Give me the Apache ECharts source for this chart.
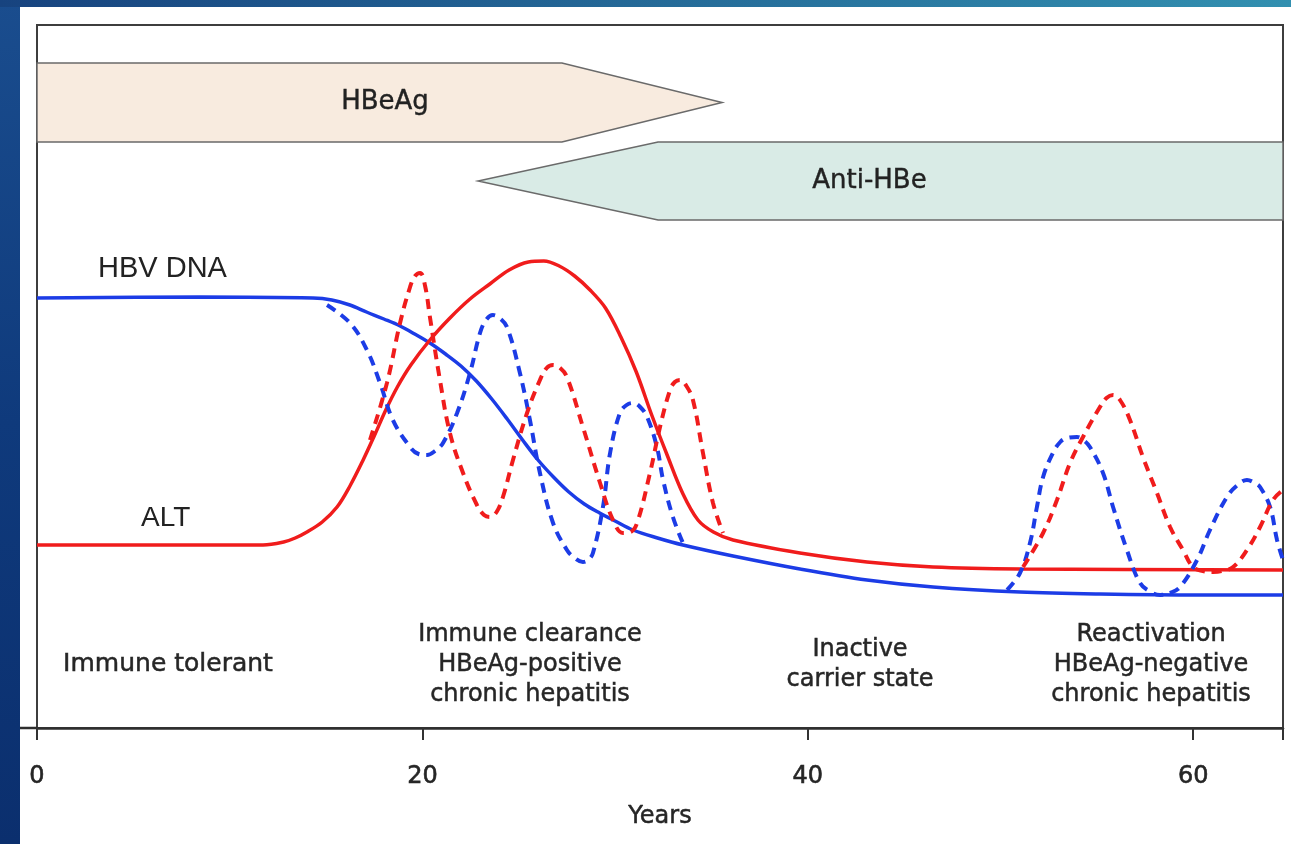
<!DOCTYPE html>
<html>
<head>
<meta charset="utf-8">
<script src="https://cdn.jsdelivr.net/npm/echarts@6/dist/echarts.min.js"></script>
<style>
html,body{margin:0;padding:0;background:#fff;}
#chart{width:1291px;height:844px;}
</style>
</head>
<body>
<div id="chart"></div>
<script>
// ---------- data (years on x; relative level on y, arbitrary units) ----------
const xTicks = [0, 20, 40, 60];
const xMax = 64.66;

// Serology bands (HBeAg arrow pointing right, Anti-HBe arrow pointing left)
const bandNames   = ['HBeAg', 'Anti-HBe'];
const bandFrom    = [0, 64.66];
const bandBodyEnd = [27.24, 32.23];
const bandTip     = [35.55, 22.89];
const bandLow     = [586, 508];
const bandHigh    = [665, 586];
const bandLabelAt = [18.06, 43.2];

// HBV DNA (solid blue)
const dnaYears = [0, 8.46, 14.32, 15.3, 16.24, 17.1, 18.0, 18.84, 19.6, 20.39, 21.2, 22.0, 22.8, 23.6, 24.4, 25.2, 26.0, 26.8, 27.6, 28.4, 29.2, 30.0, 30.93, 32.2, 33.52, 36.12, 39.59, 43.07, 46.50, 51.01, 55.16, 60.35, 64.66];
const dnaLevel = [430, 431, 430, 428, 423, 416, 409, 402, 394, 385, 374, 362, 347, 329, 309, 288, 268, 251, 236, 224, 215, 207, 198, 190, 183, 172, 159, 148, 141, 136, 134, 133, 133];

// ALT (solid red)
const altYears = [0, 11.73, 12.8, 13.4, 14.01, 14.8, 15.57, 16.24, 16.9, 17.5, 18.1, 18.7, 19.4, 20.39, 21.43, 22.47, 23.5, 24.5, 25.5, 26.3, 27.1, 27.9, 28.7, 29.5, 30.3, 31.1, 31.9, 32.7, 33.5, 34.3, 35.1, 36.12, 39.59, 43.07, 46.50, 51.01, 64.66];
const altLevel = [183, 183, 186, 190, 196, 206, 221, 242, 267, 292, 318, 341, 363, 388, 410, 429, 444, 458, 466, 467, 462, 452, 438, 420, 391, 356, 313, 273, 235, 208, 196, 188, 175, 166, 161, 159, 158];

// ALT flares (dashed red) - immune clearance
const altFlare1Years = [17.28, 18.16, 18.84, 19.36, 19.62, 19.88, 20.14, 20.39, 20.91, 21.43, 22.11, 22.83, 23.2, 23.51, 23.85, 24.18, 24.70, 25.43, 26.10, 26.45, 26.78, 27.15, 27.50, 28.33, 29.22, 29.89, 30.41, 30.8, 31.14, 31.81, 32.33, 32.85, 33.1, 33.37, 33.7, 34.04, 34.56, 35.08, 35.60];
const altFlare1Level = [288, 345, 405, 441, 452, 455, 442, 411, 348, 295, 255, 223, 213, 211, 216, 231, 268, 315, 348, 360, 363, 360, 351, 301, 245, 208, 195, 196, 205, 255, 301, 338, 346, 348, 342, 328, 275, 225, 195];

// HBV DNA fluctuations (dashed blue) - immune clearance
const dnaFlare1Years = [15.05, 16.24, 17.12, 17.80, 18.47, 19.36, 19.8, 20.24, 20.65, 21.07, 21.80, 22.47, 22.99, 23.3, 23.66, 24.0, 24.39, 25.06, 25.58, 26.10, 26.78, 27.50, 27.9, 28.33, 28.6, 28.85, 29.37, 29.74, 30.25, 30.6, 30.93, 31.3, 31.66, 32.17, 32.49, 33.00, 33.52];
const dnaFlare1Level = [423, 405, 378, 345, 308, 281, 274, 273, 277, 285, 315, 355, 395, 408, 413, 410, 401, 355, 308, 255, 205, 178, 170, 166, 168, 175, 221, 275, 315, 323, 325, 321, 311, 281, 248, 211, 185];

// ALT flares (dashed red) - reactivation
const altFlare2Years = [51.17, 52.21, 52.93, 53.61, 54.28, 55.16, 55.5, 55.84, 56.2, 56.72, 57.39, 58.12, 58.80, 59.47, 59.99, 60.5, 61.03, 61.5, 62.07, 62.79, 63.47, 64.14, 64.66];
const altFlare2Level = [161, 195, 228, 265, 291, 321, 330, 333, 328, 308, 271, 235, 201, 178, 161, 157, 156, 157, 161, 178, 201, 228, 238];

// HBV DNA fluctuations (dashed blue) - reactivation
const dnaFlare2Years = [50.34, 51.01, 51.53, 51.89, 52.21, 52.72, 53.1, 53.45, 53.97, 54.3, 54.64, 55.32, 55.84, 56.56, 57.24, 57.8, 58.28, 58.8, 59.32, 60.20, 60.87, 61.75, 62.3, 62.79, 63.2, 63.47, 63.99, 64.35, 64.66];
const dnaFlare2Level = [138, 155, 185, 221, 251, 275, 286, 290, 291, 288, 281, 255, 221, 178, 145, 136, 133, 135, 141, 168, 198, 231, 243, 248, 245, 241, 221, 188, 168];

// ---------- build ----------
const zip = (xs, ys) => xs.map((x, i) => [x, ys[i]]);
const RED = '#f01c1c', BLUE = '#1c3ce6';
const TXT = '#262626';
const bandFill = ['#f8ebdf', '#d9ebe6'];

const chart = echarts.init(document.getElementById('chart'), null, {renderer: 'canvas'});

function lineSeries(name, xs, ys, color, dashed, z) {
  return {
    name, type: 'line', data: zip(xs, ys), showSymbol: false, smooth: dashed ? 0.4 : 0.35,
    lineStyle: {color, width: dashed ? 4 : 3.5, type: dashed ? [10, 7] : 'solid', cap: 'butt'},
    z, silent: true, animation: false
  };
}

function phaseText(x, y, text, size) {
  return {type: 'text', x, y, style: {text, fontSize: size || 24, lineHeight: 30, fontFamily: 'DejaVu Sans', fill: TXT,
    stroke: TXT, lineWidth: 0.5, align: 'center', verticalAlign: 'middle'}};
}

const option = {
  animation: false,
  backgroundColor: '#fff',
  grid: {left: 37, right: 8, top: 25, bottom: 116, show: true, borderColor: '#3d3d3d', borderWidth: 2, backgroundColor: '#fff', containLabel: false},
  xAxis: {
    type: 'value', min: 0, max: xMax, interval: 20,
    axisLine: {show: true, lineStyle: {color: '#2e2e2e', width: 2.5}},
    axisTick: {show: true, length: 12, lineStyle: {color: '#333', width: 2}, customValues: [0, 20, 40, 60, xMax]},
    axisLabel: {color: TXT, fontSize: 24, fontFamily: 'DejaVu Sans', margin: 37, customValues: xTicks,
      textBorderColor: TXT, textBorderWidth: 0.6},
    splitLine: {show: false},
    name: 'Years', nameLocation: 'middle', nameGap: 77,
    nameTextStyle: {color: TXT, fontSize: 24, fontFamily: 'DejaVu Sans', textBorderColor: TXT, textBorderWidth: 0.5}
  },
  yAxis: {type: 'value', min: 0, max: 703, show: false, splitLine: {show: false}},
  graphic: [
    {type: 'rect', shape: {x: 0, y: 0, width: 20, height: 844}, z: 100,
      style: {fill: new echarts.graphic.LinearGradient(0, 0, 0, 1, [{offset: 0, color: '#1a4d8e'}, {offset: 0.5, color: '#0f3a7c'}, {offset: 1, color: '#0b2f6e'}])}},
    {type: 'rect', shape: {x: 0, y: 0, width: 1291, height: 7}, z: 100,
      style: {fill: new echarts.graphic.LinearGradient(0, 0, 1, 0, [{offset: 0, color: '#17437f'}, {offset: 1, color: '#3290b0'}])}},
    {type: 'line', shape: {x1: 17, y1: 728, x2: 37, y2: 728}, style: {stroke: '#2e2e2e', lineWidth: 2.5}},
    {type: 'text', x: 98, y: 269, style: {text: 'HBV DNA', fontSize: 29, fontFamily: 'Liberation Sans', fill: '#222', verticalAlign: 'middle'}},
    {type: 'text', x: 141, y: 518, style: {text: 'ALT', fontSize: 28, fontFamily: 'Liberation Sans', fill: '#222', verticalAlign: 'middle'}},
    phaseText(168, 664, 'Immune tolerant', 25),
    phaseText(530, 665, 'Immune clearance\nHBeAg-positive\nchronic hepatitis'),
    phaseText(860, 665, 'Inactive\ncarrier state'),
    phaseText(1151, 665, 'Reactivation\nHBeAg-negative\nchronic hepatitis')
  ],
  series: [
    {
      type: 'custom', name: 'serology', silent: true, z: 1,
      data: bandNames.map((n, i) => [bandFrom[i], bandBodyEnd[i], bandTip[i], bandLow[i], bandHigh[i], bandLabelAt[i]]),
      renderItem: function (params, api) {
        const i = params.dataIndex;
        const from = api.value(0), body = api.value(1), tip = api.value(2), lo = api.value(3), hi = api.value(4), lx = api.value(5);
        const mid = (lo + hi) / 2;
        const pts = [api.coord([from, hi]), api.coord([body, hi]), api.coord([tip, mid]), api.coord([body, lo]), api.coord([from, lo])];
        const lp = api.coord([lx, mid]);
        return {
          type: 'group',
          children: [
            {type: 'polygon', shape: {points: pts}, style: {fill: bandFill[i], stroke: '#6a6a6a', lineWidth: 1.5}},
            {type: 'text', x: lp[0], y: lp[1], style: {text: bandNames[i], fontSize: 26, fontFamily: 'DejaVu Sans', fill: '#222',
              stroke: '#222', lineWidth: 0.4, align: 'center', verticalAlign: 'middle'}}
          ]
        };
      }
    },
    lineSeries('HBV DNA', dnaYears, dnaLevel, BLUE, false, 3),
    lineSeries('ALT', altYears, altLevel, RED, false, 4),
    lineSeries('HBV DNA fluctuation 1', dnaFlare1Years, dnaFlare1Level, BLUE, true, 5),
    lineSeries('ALT flare 1', altFlare1Years, altFlare1Level, RED, true, 5),
    lineSeries('HBV DNA fluctuation 2', dnaFlare2Years, dnaFlare2Level, BLUE, true, 5),
    lineSeries('ALT flare 2', altFlare2Years, altFlare2Level, RED, true, 5)
  ]
};
chart.setOption(option);
</script>
</body>
</html>
